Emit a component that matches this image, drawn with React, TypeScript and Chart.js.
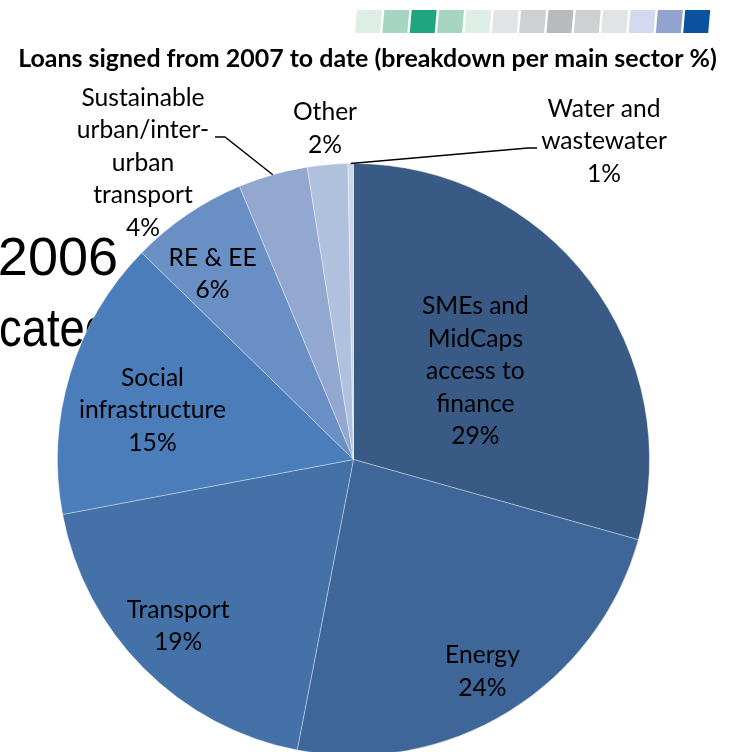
import React, { useEffect, useRef } from 'react';
import { Chart, registerables } from 'chart.js';

Chart.register(...registerables);

// ---------- data ----------
const categories = [
  'SMEs and MidCaps access to finance',
  'Energy',
  'Transport',
  'Social infrastructure',
  'RE & EE',
  'Sustainable urban/inter-urban transport',
  'Other',
  'Water and wastewater',
];
const shares = [29.4, 23.7, 19.0, 15.3, 6.4, 3.8, 2.2, 0.3];
const shownPct = ['29%', '24%', '19%', '15%', '6%', '4%', '2%', '1%'];
const labelLines = [
  ['SMEs and', 'MidCaps', 'access to', 'finance'],
  ['Energy'],
  ['Transport'],
  ['Social', 'infrastructure'],
  ['RE & EE'],
  ['Sustainable', 'urban/inter-', 'urban', 'transport'],
  ['Other'],
  ['Water and', 'wastewater'],
];
const titleText = 'Loans signed from 2007 to date (breakdown per main sector %)';
const backgroundWords = ['2006', 'cated'];

// ---------- styles ----------
const sliceColors = [
  '#395A85', '#3E6699', '#4472A8', '#4A7DB9',
  '#6A8FC4', '#93A8D0', '#B0C1DD', '#CED7EA',
];
const stripColors = [
  '#DCEEE5', '#A6D6C2', '#1FA67F', '#A6D6C2', '#DCEEE5', '#E2E3E5', '#CFD0D2',
  '#B9BABC', '#CFD0D2', '#E2E3E5', '#D3D9EE', '#93A3CF', '#0B529E',
];

type Placement =
  | { kind: 'in'; da: number; f: number }
  | { kind: 'out'; x: number; y: number; knots?: [number, number][] };

const placements: Placement[] = [
  { kind: 'in', da: 1, f: 0.51 },
  { kind: 'in', da: 0.2, f: 0.835 },
  { kind: 'in', da: 1.5, f: 0.815 },
  { kind: 'in', da: -2.8, f: 0.7 },
  { kind: 'in', da: -2.9, f: 0.79 },
  { kind: 'out', x: 143, y: 162, knots: [[225, 137], [215, 137]] },
  { kind: 'out', x: 325, y: 127.5 },
  { kind: 'out', x: 604, y: 140.5, knots: [[528, 148], [537, 148]] },
];

const LABEL_FONT = 'Lato';
const LINE_H = 32.5;

const decorPlugin = {
  id: 'decor',
  beforeDatasetsDraw(chart: any) {
    const ctx: CanvasRenderingContext2D = chart.ctx;
    ctx.save();
    // colour strip
    stripColors.forEach((c, i) => {
      const x = 355 + i * 27.35;
      ctx.fillStyle = c;
      ctx.beginPath();
      ctx.moveTo(x + 2, 10);
      ctx.lineTo(x + 27, 10);
      ctx.lineTo(x + 25, 33);
      ctx.lineTo(x, 33);
      ctx.closePath();
      ctx.fill();
    });
    // background slide text (behind the pie)
    ctx.fillStyle = '#000';
    ctx.font = '54px "Liberation Sans", Arial, sans-serif';
    ctx.textAlign = 'right';
    ctx.textBaseline = 'alphabetic';
    ctx.fillText(backgroundWords[0], 118, 275);
    ctx.save();
    ctx.scale(0.84, 1);
    ctx.fillText(backgroundWords[1], 110 / 0.84, 346);
    ctx.restore();
    ctx.restore();
  },
  afterDatasetsDraw(chart: any) {
    const ctx: CanvasRenderingContext2D = chart.ctx;
    ctx.save();
    // title
    ctx.font = `bold 21px ${LABEL_FONT}`;
    const tw = ctx.measureText(titleText).width;
    const tSize = (21 * 699) / tw;
    ctx.font = `bold ${tSize}px ${LABEL_FONT}`;
    ctx.fillStyle = '#000';
    ctx.textAlign = 'center';
    ctx.textBaseline = 'middle';
    ctx.fillText(titleText, 367.5, 59);

    // labels
    ctx.font = `23px ${LABEL_FONT}`;
    const sw = ctx.measureText('Sustainable').width;
    const lSize = (23 * 123) / sw;
    ctx.font = `${lSize}px ${LABEL_FONT}`;

    const meta = chart.getDatasetMeta(0);
    meta.data.forEach((arc: any, i: number) => {
      const p = arc.getProps(['x', 'y', 'startAngle', 'endAngle', 'outerRadius'], true);
      const mid = (p.startAngle + p.endAngle) / 2;
      const pl = placements[i];
      const lines = [...labelLines[i], shownPct[i]];
      let cx: number;
      let cy: number;
      if (pl.kind === 'in') {
        const a = mid + (pl.da * Math.PI) / 180;
        const r = p.outerRadius * pl.f;
        cx = p.x + r * Math.cos(a);
        cy = p.y + r * Math.sin(a);
      } else {
        cx = pl.x;
        cy = pl.y;
        if (pl.knots) {
          ctx.strokeStyle = '#000';
          ctx.lineWidth = 1.4;
          ctx.beginPath();
          ctx.moveTo(p.x + p.outerRadius * Math.cos(mid), p.y + p.outerRadius * Math.sin(mid));
          pl.knots.forEach(([kx, ky]) => ctx.lineTo(kx, ky));
          ctx.stroke();
        }
      }
      ctx.fillStyle = '#000';
      ctx.textAlign = 'center';
      ctx.textBaseline = 'middle';
      const y0 = cy - ((lines.length - 1) * LINE_H) / 2;
      lines.forEach((t, k) => ctx.fillText(t, cx, y0 + k * LINE_H + 1));
    });
    ctx.restore();
  },
};

export default function App() {
  const ref = useRef<HTMLCanvasElement>(null);
  useEffect(() => {
    let chart: Chart | null = null;
    let cancelled = false;
    const make = () => {
      if (cancelled || !ref.current) return;
      chart = new Chart(ref.current, {
        type: 'pie',
        data: {
          labels: categories,
          datasets: [
            {
              data: shares,
              backgroundColor: sliceColors,
              borderColor: 'rgba(255,255,255,0.35)',
              borderWidth: 1,
              hoverOffset: 0,
            },
          ],
        },
        options: {
          responsive: false,
          maintainAspectRatio: false,
          animation: false,
          layout: { padding: { left: 57, top: 163, right: 85, bottom: 4 } },
          plugins: {
            legend: { display: false },
            tooltip: { enabled: false },
            title: { display: false },
          },
        },
        plugins: [decorPlugin],
      });
    };
    const fonts = (document as any).fonts;
    if (fonts && fonts.load) {
      Promise.all([
        fonts.load(`23px ${LABEL_FONT}`),
        fonts.load(`bold 21px ${LABEL_FONT}`),
        fonts.load('54px "Liberation Sans"'),
      ]).then(make, make);
    } else {
      make();
    }
    return () => {
      cancelled = true;
      if (chart) chart.destroy();
    };
  }, []);

  return (
    <div
      style={{
        position: 'fixed',
        left: 0,
        top: 0,
        width: 735,
        height: 752,
        overflow: 'hidden',
        background: '#fff',
      }}
    >
      <canvas ref={ref} width={735} height={760} style={{ display: 'block' }} />
    </div>
  );
}
